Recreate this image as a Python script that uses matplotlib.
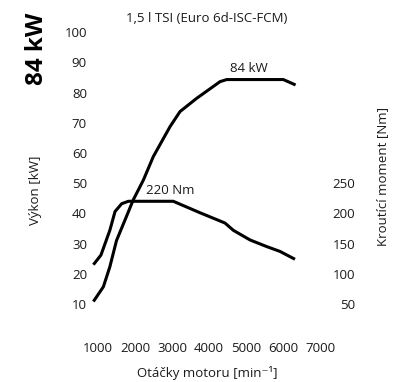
import matplotlib
matplotlib.use('Agg')
import matplotlib.pyplot as plt

plt.rcParams['font.family'] = ['Open Sans', 'DejaVu Sans']

# power curve, rpm vs kW
rpm_p = [875, 1145, 1320, 1500, 1770, 1950, 2225, 2495, 2946, 3216, 3668, 4297, 4478, 6009, 6340]
power = [10.8, 15.7, 22.3, 31, 39, 44.4, 51, 58.8, 68.7, 73.7, 78.1, 83.6, 84.3, 84.3, 82.5]

# torque curve, rpm vs Nm
rpm_t = [875, 1080, 1320, 1460, 1640, 1820, 3035, 3757, 4432, 4657, 5108, 5560, 5919, 6324]
torque = [115, 131, 172, 203, 216, 220, 220, 201, 184, 172, 156, 145, 137, 124]

xticks = [1000, 2000, 3000, 4000, 5000, 6000, 7000]
pticks = [10, 20, 30, 40, 50, 60, 70, 80, 90, 100]
tticks = [50, 100, 150, 200, 250]

txt = '#1a1a1a'
fig = plt.figure(figsize=(3.96, 3.82), dpi=100)
ax = fig.add_axes([0.2288, 0.1647, 0.598, 0.767])
ax2 = ax.twinx()

ax.plot(rpm_p, power, color='black', lw=2.2, solid_capstyle='butt', solid_joinstyle='round')
ax2.plot(rpm_t, torque, color='black', lw=2.2, solid_capstyle='butt', solid_joinstyle='round')

ax.set_xlim(800, 7200)
ax.set_ylim(5, 102)
ax2.set_ylim(25, 510)

ax.set_xticks(xticks)
ax.set_yticks(pticks)
ax2.set_yticks(tticks)
ax.tick_params(axis='x', length=0, pad=16.8, labelsize=9.5, labelcolor=txt)
ax.tick_params(axis='y', length=0, pad=2.6, labelsize=9.5, labelcolor=txt)
ax2.tick_params(axis='y', length=0, pad=19.9, labelsize=9.5, labelcolor=txt)
for lab in ax2.get_yticklabels():
    lab.set_horizontalalignment('right')

for a in (ax, ax2):
    for s in a.spines.values():
        s.set_visible(False)
    a.patch.set_visible(False)

ax.text(5068, 87.8, '84 kW', ha='center', va='center', fontsize=9.5, color=txt)
ax2.text(2965, 238, '220 Nm', ha='center', va='center', fontsize=9.5, color=txt)

fig.text(207 / 396, 1 - 18 / 382, '1,5 l TSI (Euro 6d-ISC-FCM)', ha='center', va='center',
         fontsize=9.5, color=txt)
fig.text(37 / 396, 1 - 49 / 382, '84 kW', ha='center', va='center', rotation=90,
         fontsize=17.5, fontweight='bold', color='black')
fig.text(35 / 396, 1 - 190 / 382, 'Výkon [kW]', ha='center', va='center', rotation=90,
         fontsize=9.5, color=txt)
fig.text(383 / 396, 1 - 176 / 382, 'Kroutící moment [Nm]', ha='center', va='center', rotation=90,
         fontsize=9.5, color=txt)
fig.text(207.5 / 396, 1 - 373 / 382, 'Otáčky motoru [min⁻¹]', ha='center', va='center',
         fontsize=9.5, color=txt)

fig.savefig('out.png', dpi=100)
